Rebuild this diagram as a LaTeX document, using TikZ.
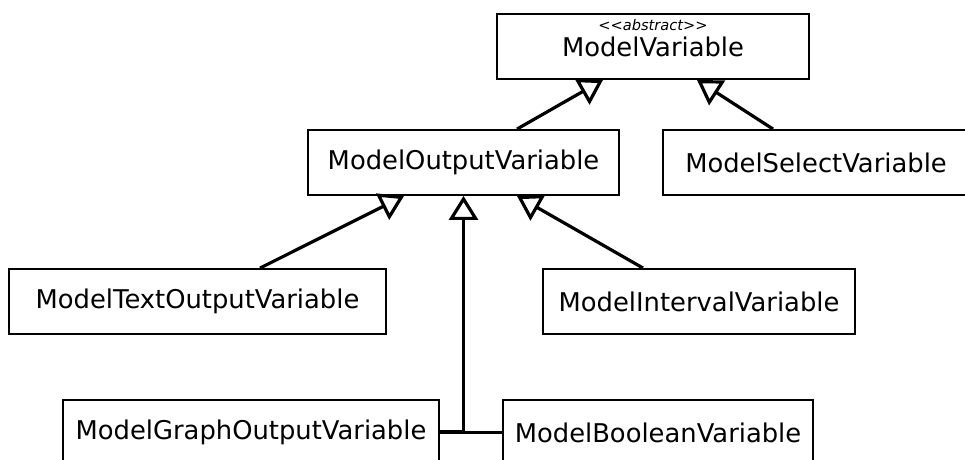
\documentclass[tikz,border=0pt]{standalone}
\usepackage{fontspec}
\setmainfont{DejaVu Sans}
\usetikzlibrary{arrows.meta}
\begin{document}
\begin{tikzpicture}[x=1pt,y=-1pt,
  cls/.style={draw=black, line width=1.9pt, fill=white, inner sep=0pt,
    minimum height=65pt, font=\fontsize{25.8}{30}\selectfont},
  lbl/.style={inner sep=0pt},
  gen/.style={line width=3.2pt,
    -{Triangle[open, length=24pt, width=29pt]}},
  link/.style={line width=3.2pt}]
\useasboundingbox (0,0) rectangle (965,459);

% classes
\node[cls, minimum width=312pt] (mv)   at (653,46.5)  {};
\node[lbl, font=\fontsize{14.6}{16}\selectfont\itshape] (mvst) at (653,25) {<{}<abstract>{}>};
\node[lbl, anchor=base, font=\fontsize{25.8}{30}\selectfont] (mvname) at (653,56) {ModelVariable};

\node[cls, minimum width=311pt] (mov)  at (463.5,162.5) {ModelOutputVariable};
\node[cls, minimum width=306pt] (msv)  at (816,162.5)   {ModelSelectVariable};
\node[cls, minimum width=377pt] (mtov) at (197.5,301.5) {ModelTextOutputVariable};
\node[cls, minimum width=312pt] (miv)  at (699,301.5)   {ModelIntervalVariable};
\node[cls, minimum width=376pt] (mgov) at (251,432.5)   {ModelGraphOutputVariable};
\node[cls, minimum width=310pt] (mbv)  at (658,432.5)   {ModelBooleanVariable};

% generalisations
\draw[gen] ([xshift=53.5pt]mov.north)  -- ([xshift=-50pt]mv.south);
\draw[gen] ([xshift=-43pt]msv.north)   -- ([xshift=44pt]mv.south);
\draw[gen] ([xshift=62.5pt]mtov.north) -- ([xshift=-59.5pt]mov.south);
\draw[gen] ([xshift=-56pt]miv.north)   -- ([xshift=53.5pt]mov.south);

\coordinate (j) at (mov.south |- mgov.east);
\draw[link] (mbv.west) -- (j);
\draw[link] ([yshift=1.2pt]mgov.east) -- ([yshift=1.2pt]j);
\draw[gen] (mgov.east) -- (j) -- (mov.south);
\end{tikzpicture}
\end{document}
